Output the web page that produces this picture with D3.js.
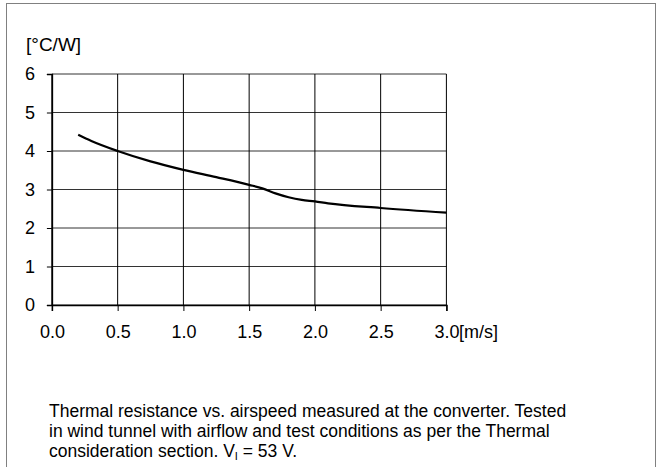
<!DOCTYPE html>
<html><head><meta charset="utf-8">
<script src="https://cdn.jsdelivr.net/npm/d3@7"></script>
<style>body{margin:0;background:#fff;}svg{display:block;font-family:"Liberation Sans",Arial,sans-serif;}</style>
</head><body><svg id="c" width="656" height="467"></svg>
<script>
const airspeed = [0.2, 0.3, 0.5, 0.75, 1.0, 1.25, 1.5, 1.6, 1.7, 1.8, 1.9, 2.0, 2.1, 2.5, 3.0];
const resistance = [4.42, 4.26, 4.0, 3.73, 3.51, 3.32, 3.12, 3.03, 2.90, 2.80, 2.73, 2.69, 2.64, 2.52, 2.40];
const xTicks = [0, 0.5, 1.0, 1.5, 2.0, 2.5, 3.0];
const yTicks = [0, 1, 2, 3, 4, 5, 6];
const yTitle = "[°C/W]";
const xUnit = "[m/s]";
const captionLines = [
  "Thermal resistance vs. airspeed measured at the converter. Tested",
  "in wind tunnel with airflow and test conditions as per the Thermal"
];

const FONT = "Liberation Sans, Arial, sans-serif";
const svg = d3.select("#c");
// frame
svg.append("rect").attr("x", 6.5).attr("y", 3.5).attr("width", 649).attr("height", 470)
  .attr("fill", "none").attr("stroke", "#808080").attr("stroke-width", 1);

const x = d3.scaleLinear().domain([0, 3]).range([51.9, 446.4]);
const y = d3.scaleLinear().domain([0, 6]).range([305, 74]);

const g = svg.append("g");
// grid
g.selectAll("line.h").data(yTicks).enter().append("line")
  .attr("x1", x(0)).attr("x2", x(3)).attr("y1", d => y(d)).attr("y2", d => y(d))
  .attr("stroke", "#333").attr("stroke-width", 1);
g.selectAll("line.v").data(xTicks).enter().append("line")
  .attr("x1", d => x(d)).attr("x2", d => x(d)).attr("y1", y(0)).attr("y2", y(6))
  .attr("stroke", "#000").attr("stroke-width", 1);

// axes
const xAxis = d3.axisBottom(x).tickValues(xTicks).tickSize(6).tickPadding(14)
  .tickFormat(d => d3.format(".1f")(d));
const gx = svg.append("g").attr("transform", `translate(0,${y(0)})`).call(xAxis);
gx.select(".domain").attr("stroke", "#000").attr("stroke-width", 1.5);
gx.selectAll("text").attr("font-size", 18).attr("fill", "#000").attr("font-family", FONT);
gx.selectAll(".tick line").attr("stroke", "#000");

const yAxis = d3.axisLeft(y).tickValues(yTicks).tickSize(5).tickPadding(12).tickFormat(d3.format("d"));
const gy = svg.append("g").attr("transform", `translate(${x(0)},0)`).call(yAxis);
gy.select(".domain").attr("stroke", "#000").attr("stroke-width", 1.5);
gy.selectAll("text").attr("font-size", 18).attr("fill", "#000").attr("font-family", FONT);
gy.selectAll(".tick line").attr("stroke", "#000");

// unit after 3.0
const last = gx.selectAll(".tick").filter(d => d === 3);
const lt = last.select("text");
const w = lt.node().getComputedTextLength();
svg.append("text").attr("x", x(3) + w / 2).attr("y", y(0) + 6 + 14).attr("dy", "0.71em")
  .attr("font-size", 18).text(xUnit);

// y title
svg.append("text").attr("x", 26).attr("y", 51).attr("font-size", 19).text(yTitle);

// curve
const line = d3.line().x((d, i) => x(airspeed[i])).y(d => y(d)).curve(d3.curveMonotoneX);
svg.append("path").datum(resistance).attr("d", line)
  .attr("fill", "none").attr("stroke", "#000").attr("stroke-width", 2.2);

// caption
const cap = svg.append("g").attr("font-size", 17.5).attr("fill", "#000");
captionLines.forEach((t, i) => {
  cap.append("text").attr("x", 49).attr("y", 417 + i * 20).text(t);
});
const l3 = cap.append("text").attr("x", 49).attr("y", 457);
l3.append("tspan").text("consideration section. V");
l3.append("tspan").attr("font-size", 11).attr("dy", 3).text("I");
l3.append("tspan").attr("dy", -3).text(" = 53 V.");
</script></body></html>
